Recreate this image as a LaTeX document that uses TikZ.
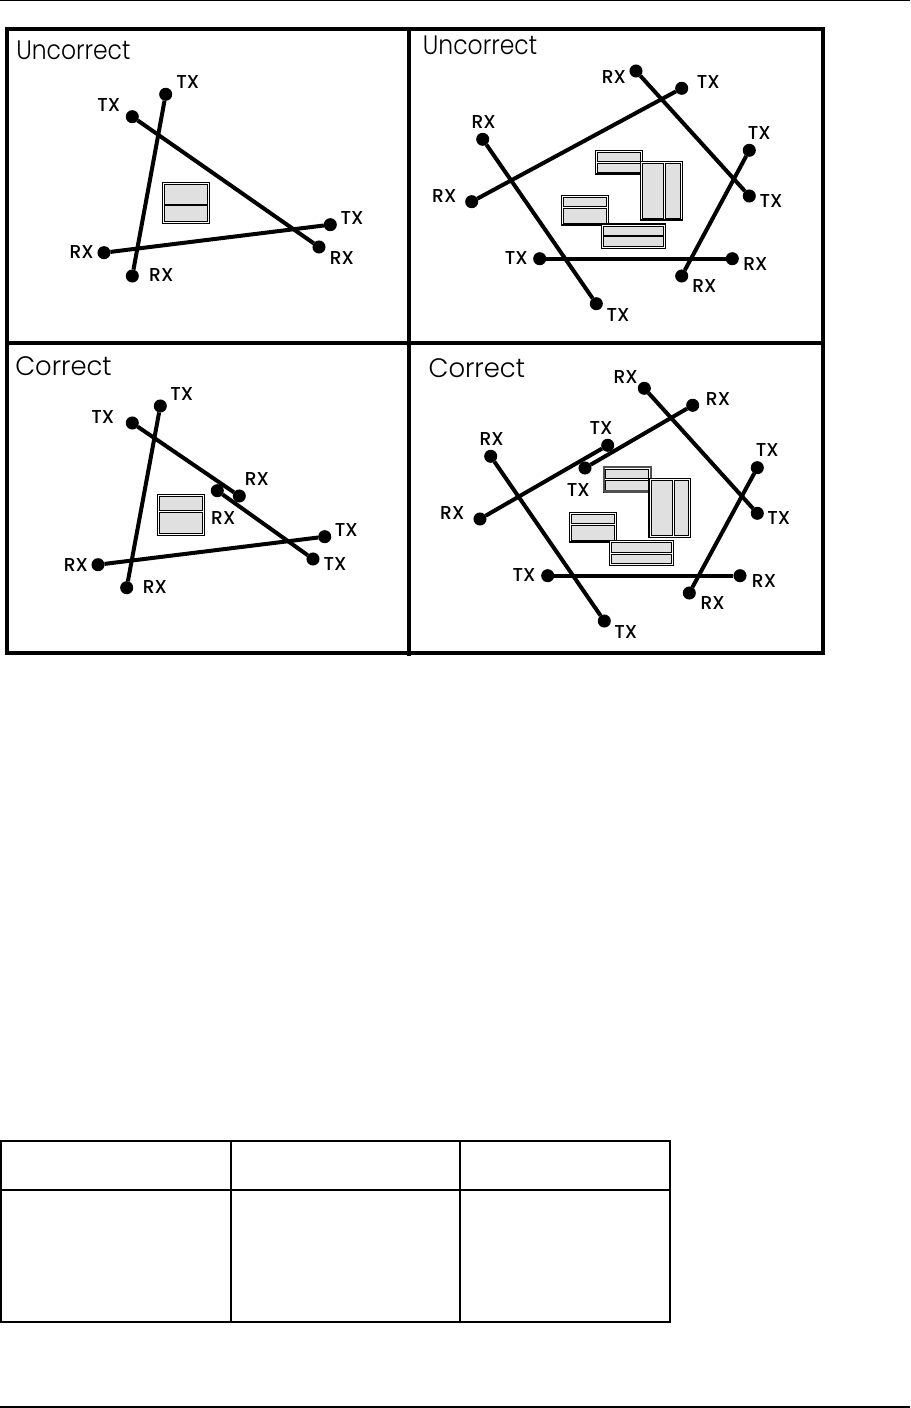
\documentclass[tikz,border=0pt]{standalone}
\usepackage{fontspec}
\setmainfont{Poppins}
\newfontfamily\labfont{Poppins Medium}
\newfontfamily\ufont[FakeStretch=0.88]{Poppins Light}
\newfontfamily\cfont[FakeStretch=0.97]{Poppins Light}
\definecolor{boxgray}{HTML}{E0E0E0}
\definecolor{edgegray}{HTML}{505050}
\tikzset{
  x=0.75pt,y=-0.75pt,
  frameline/.style={draw=black,line width=3pt},
  tableline/.style={draw=black,line width=1.4pt},
  pageline/.style={draw=black,line width=1.4pt},
  dot/.style={circle,fill=black,draw=none,minimum size=9.8pt,inner sep=0pt,outer sep=0pt},
  wire/.style={draw=black,line width=3pt},
  lab/.style={inner sep=0pt,font=\labfont\fontsize{14pt}{16pt}\selectfont,anchor=center},
  ttlu/.style={inner sep=0pt,anchor=base west,font=\ufont\fontsize{20pt}{24pt}\selectfont},
  ttlc/.style={inner sep=0pt,anchor=base west,font=\cfont\fontsize{20pt}{24pt}\selectfont},
  outerbox/.style={draw=black,fill=white,line width=0.85pt},
  innerbox/.style={draw=black,fill=boxgray,line width=0.6pt},
  darkedge/.style={draw=edgegray,line width=1.6pt},
}
\newcommand{\hsplitbox}[5]{%
  \draw[outerbox] (#1,#2) rectangle (#3,#4);
  \draw[innerbox] (#1+2,#2+2) rectangle (#3-2,#5-0.9);
  \draw[innerbox] (#1+2,#5+0.9) rectangle (#3-2,#4-2);
}
\newcommand{\vsplitbox}[5]{%
  \draw[outerbox] (#1,#2) rectangle (#3,#4);
  \draw[innerbox] (#1+2,#2+2) rectangle (#5-0.9,#4-2);
  \draw[innerbox] (#5+0.9,#2+2) rectangle (#3-2,#4-2);
}
\begin{document}
\begin{tikzpicture}
\useasboundingbox (0,0) rectangle (910,1408);
\fill[white] (0,0) rectangle (910,1408);
% page rules
\coordinate (pt1) at (0,0.5); \coordinate (pt2) at (910,0.5);
\draw[pageline] (pt1) -- (pt2);
\coordinate (pb1) at (0,1406.7); \coordinate (pb2) at (910,1406.7);
\draw[pageline] (pb1) -- (pb2);
% frame
\draw[frameline] (7,29.5) rectangle (823,653);
\draw[frameline] (409,29.5) -- (409,656);
\draw[frameline] (7,343.5) -- (823,343.5);
% panel 1
\node[ttlu] (at) at (16,60) {Uncorrect};
\node[dot] (a1) at (165.7,94.3) {}; \node[dot] (a2) at (132.3,276) {};
\node[dot] (a3) at (132.3,116.7) {}; \node[dot] (a4) at (319,247) {};
\node[dot] (a5) at (104,252.7) {}; \node[dot] (a6) at (330.3,224.7) {};
\draw[wire] (a1) -- (a2); \draw[wire] (a3) -- (a4); \draw[wire] (a5) -- (a6);
\hsplitbox{162.3}{182.3}{209.7}{223.3}{205}
\node[lab] (al1) at (187.7,82.3) {TX};
\node[lab] (al2) at (108.7,105.3) {TX};
\node[lab] (al3) at (352,218.3) {TX};
\node[lab] (al4) at (342,258.3) {RX};
\node[lab] (al5) at (161.3,275.3) {RX};
\node[lab] (al6) at (81.7,252.3) {RX};
% panel 2
\node[ttlu] (bt) at (422.7,54.3) {Uncorrect};
\node[dot] (b1) at (636,71) {}; \node[dot] (b2) at (749.3,196) {};
\node[dot] (b3) at (681.7,88.3) {}; \node[dot] (b4) at (471.7,201.7) {};
\node[dot] (b5) at (482.7,139.3) {}; \node[dot] (b6) at (596.3,303.7) {};
\node[dot] (b7) at (749.3,150.3) {}; \node[dot] (b8) at (681.7,276) {};
\node[dot] (b9) at (539.7,258.7) {}; \node[dot] (b10) at (732.3,258.7) {};
\draw[wire] (b1) -- (b2); \draw[wire] (b3) -- (b4); \draw[wire] (b5) -- (b6);
\draw[wire] (b7) -- (b8); \draw[wire] (b9) -- (b10);
\hsplitbox{595.7}{150.7}{642.3}{174}{162.7}
\vsplitbox{640.7}{161.7}{682.3}{220}{664.7}
\hsplitbox{561.7}{195.7}{608.3}{225}{207.3}
\hsplitbox{601.7}{224}{665.7}{248.3}{236}
\node[lab] (bl1) at (614,76.7) {RX};
\node[lab] (bl2) at (708.3,82) {TX};
\node[lab] (bl3) at (483.7,122) {RX};
\node[lab] (bl4) at (444.3,195.7) {RX};
\node[lab] (bl5) at (759.3,133) {TX};
\node[lab] (bl6) at (771,201.3) {TX};
\node[lab] (bl7) at (516.3,258) {TX};
\node[lab] (bl8) at (755.3,263.7) {RX};
\node[lab] (bl9) at (704.3,286) {RX};
\node[lab] (bl10) at (618,314.7) {TX};
% panel 3
\node[ttlc] (ct) at (15,375.7) {Correct};
\node[dot] (c1) at (160.3,406) {}; \node[dot] (c2) at (126.7,587.7) {};
\node[dot] (c3) at (132.3,423) {}; \node[dot] (c4) at (239.3,496) {};
\node[dot] (c5) at (217.3,490.7) {}; \node[dot] (c6) at (313,559) {};
\node[dot] (c7) at (98,564.7) {}; \node[dot] (c8) at (324.7,536.7) {};
\draw[wire] (c1) -- (c2); \draw[wire] (c3) -- (c4); \draw[wire] (c5) -- (c6); \draw[wire] (c7) -- (c8);
\hsplitbox{157.3}{494.3}{204.7}{535.3}{511.7}
\node[lab] (cl1) at (181.7,394.3) {TX};
\node[lab] (cl2) at (102.7,417) {TX};
\node[lab] (cl3) at (257,479.3) {RX};
\node[lab] (cl4) at (223.3,518.3) {RX};
\node[lab] (cl5) at (346.3,530.3) {TX};
\node[lab] (cl6) at (335,564) {TX};
\node[lab] (cl7) at (76,564.7) {RX};
\node[lab] (cl8) at (155,587) {RX};
% panel 4
\node[ttlc] (dt) at (428.3,377.3) {Correct};
\node[dot] (d1) at (644.3,388.3) {}; \node[dot] (d2) at (757.3,513.3) {};
\node[dot] (d3) at (692.7,405.3) {}; \node[dot] (d4) at (585,468) {};
\node[dot] (d5) at (607.7,445.3) {}; \node[dot] (d6) at (480,519) {};
\node[dot] (d7) at (490.7,456.3) {}; \node[dot] (d8) at (604.3,621) {};
\node[dot] (d9) at (757.3,467.7) {}; \node[dot] (d10) at (689.3,593) {};
\node[dot] (d11) at (547.7,575.7) {}; \node[dot] (d12) at (740,575.7) {};
\draw[wire] (d1) -- (d2); \draw[wire] (d3) -- (d4); \draw[wire] (d5) -- (d6);
\draw[wire] (d7) -- (d8); \draw[wire] (d9) -- (d10); \draw[wire] (d11) -- (d12);
\hsplitbox{603.7}{467.3}{650.7}{492}{479.3}
\draw[darkedge] (603.7,492) -- (603.7,467.3) -- (650.7,467.3) -- (650.7,479);
\draw[darkedge,line width=2.2pt] (603.7,491.5) -- (649,491.5);
\vsplitbox{649}{478.7}{690.3}{537.3}{673}
\hsplitbox{569.7}{512.7}{616.3}{542}{524}
\hsplitbox{609.7}{540.7}{673.3}{565.3}{553.3}
\node[lab] (dl1) at (625.7,377) {RX};
\node[lab] (dl2) at (718,399.3) {RX};
\node[lab] (dl3) at (601,427.7) {TX};
\node[lab] (dl4) at (491.7,439) {RX};
\node[lab] (dl5) at (767.3,450.3) {TX};
\node[lab] (dl6) at (578.3,490) {TX};
\node[lab] (dl7) at (452.3,513) {RX};
\node[lab] (dl8) at (778.7,517.7) {TX};
\node[lab] (dl9) at (524,575) {TX};
\node[lab] (dl10) at (764,581) {RX};
\node[lab] (dl11) at (712.7,603.3) {RX};
\node[lab] (dl12) at (625.7,631.7) {TX};
% table
\draw[tableline] (0.8,1141) rectangle (670,1322);
\draw[tableline] (0.8,1190) -- (670,1190);
\draw[tableline] (231,1141) -- (231,1322);
\draw[tableline,line width=1pt] (460,1141) -- (460,1322);
\end{tikzpicture}
\end{document}
